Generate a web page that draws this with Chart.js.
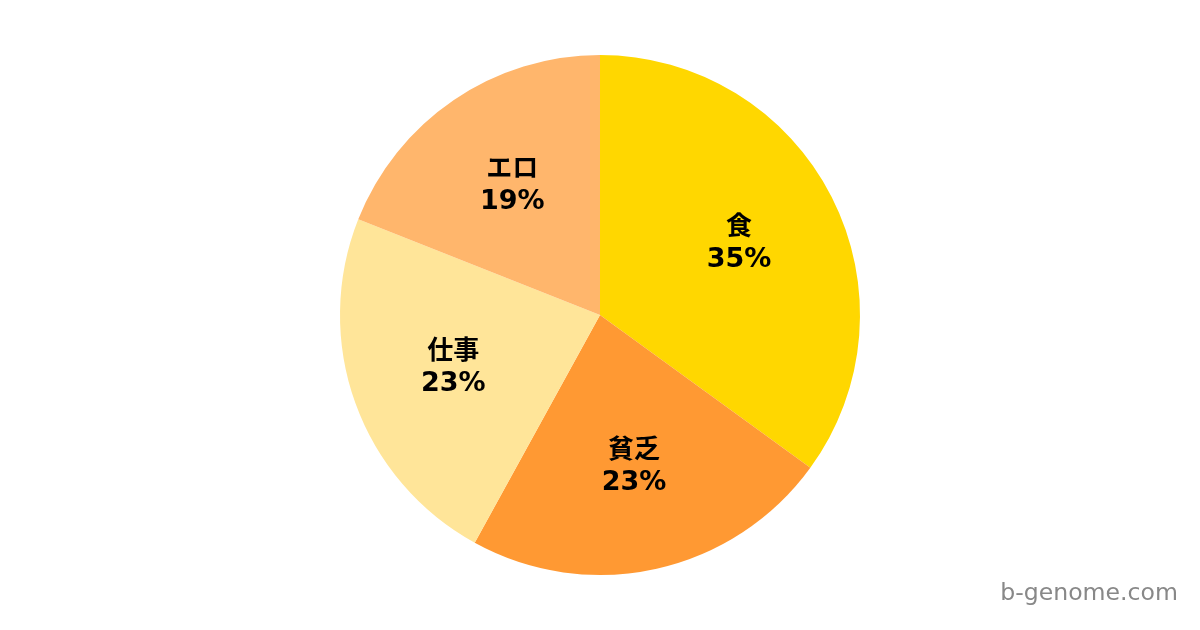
<!DOCTYPE html>
<html><head><meta charset="utf-8">
<script src="https://cdn.jsdelivr.net/npm/chart.js@4/dist/chart.umd.min.js"></script>
<style>html,body{margin:0;padding:0;background:#fff}#wrap{width:1200px;height:630px;position:relative}</style>
</head><body><div id="wrap"><canvas id="c" width="1200" height="630"></canvas></div>
<script>
const categories = ["食", "貧乏", "仕事", "エロ"];
const values = [35, 23, 23, 19];
const colors = ["#FFD700", "#FF9933", "#FFE599", "#FFB66C"];
const watermark = "b-genome.com";

const labelPlugin = {
  id: 'sliceLabels',
  afterDatasetsDraw(chart) {
    const ctx = chart.ctx;
    const meta = chart.getDatasetMeta(0);
    const total = values.reduce((a, b) => a + b, 0);
    ctx.save();
    ctx.fillStyle = '#000';
    ctx.textAlign = 'center';
    ctx.textBaseline = 'middle';
    meta.data.forEach((arc, i) => {
      const mid = (arc.startAngle + arc.endAngle) / 2;
      const r = arc.outerRadius * 0.6;
      const x = arc.x + Math.cos(mid) * r;
      const y = arc.y + Math.sin(mid) * r;
      ctx.font = 'bold 26px "DejaVu Sans", "Noto Sans CJK JP", sans-serif';
      ctx.fillText(categories[i], x, y - 16);
      ctx.font = 'bold 27px "DejaVu Sans", sans-serif';
      ctx.fillText(Math.round(values[i] / total * 100) + '%', x, y + 16);
    });
    ctx.restore();
  },
  afterDraw(chart) {
    const ctx = chart.ctx;
    ctx.save();
    ctx.fillStyle = '#888888';
    ctx.textAlign = 'right';
    ctx.textBaseline = 'alphabetic';
    ctx.font = '23.6px "DejaVu Sans", sans-serif';
    ctx.fillText(watermark, 1178, 600);
    ctx.restore();
  }
};

new Chart(document.getElementById('c'), {
  type: 'pie',
  data: {
    labels: categories,
    datasets: [{ data: values, backgroundColor: colors, borderWidth: 0 }]
  },
  options: {
    responsive: false,
    animation: false,
    layout: { padding: { top: 55, bottom: 55 } },
    plugins: { legend: { display: false }, tooltip: { enabled: false } }
  },
  plugins: [labelPlugin]
});
</script></body></html>
